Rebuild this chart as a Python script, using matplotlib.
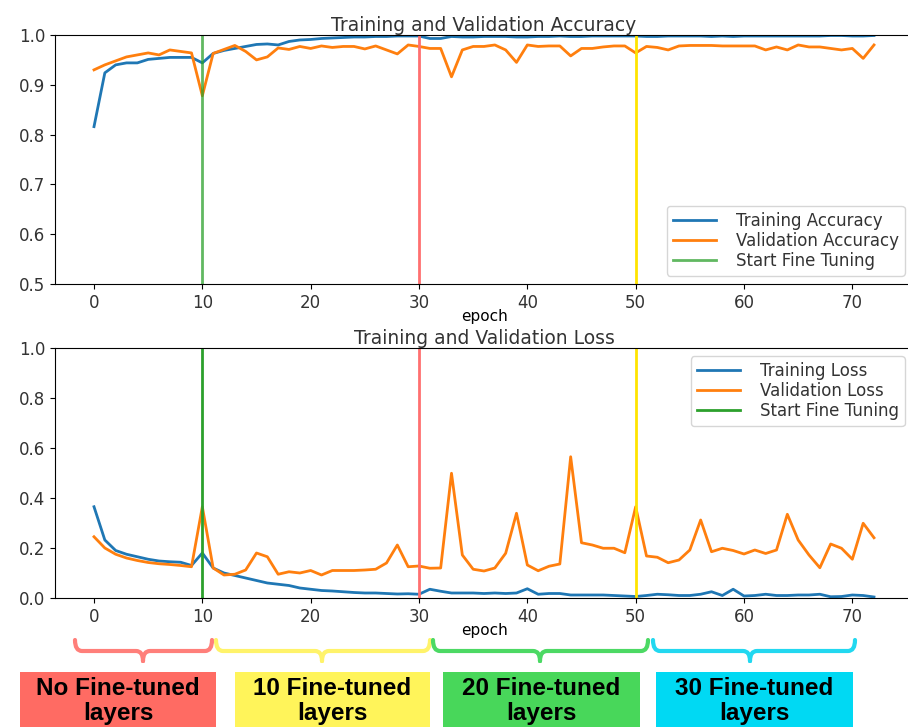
import numpy as np
import matplotlib
matplotlib.use("Agg")
import matplotlib.pyplot as plt
from matplotlib.path import Path
from matplotlib.patches import PathPatch, Rectangle

# values (73 epochs, 0..72)
acc = [0.816, 0.924, 0.940, 0.944, 0.944, 0.951, 0.953, 0.955, 0.955, 0.955,
       0.944, 0.963, 0.969, 0.973, 0.977, 0.981, 0.982, 0.980, 0.987, 0.990,
       0.991, 0.993, 0.994, 0.995, 0.996, 0.996, 0.997, 0.997, 0.998, 0.998,
       0.998, 0.993, 0.993, 0.997, 0.996, 0.996, 0.997, 0.997, 0.997, 0.996,
       0.996, 0.997, 0.997, 0.998, 0.997, 0.997, 0.998, 0.998, 0.998, 0.998,
       0.998, 0.997, 0.997, 0.998, 0.998, 0.998, 0.998, 0.997, 0.998, 0.997,
       0.998, 0.998, 0.998, 0.998, 0.998, 0.998, 0.998, 0.998, 0.999, 0.999,
       0.998, 0.998, 0.999]
val_acc = [0.930, 0.940, 0.948, 0.956, 0.960, 0.964, 0.960, 0.970, 0.967, 0.964,
           0.878, 0.963, 0.971, 0.979, 0.967, 0.950, 0.956, 0.974, 0.971, 0.977,
           0.973, 0.978, 0.975, 0.977, 0.977, 0.972, 0.978, 0.970, 0.962, 0.980,
           0.977, 0.973, 0.973, 0.916, 0.970, 0.977, 0.977, 0.980, 0.970, 0.945,
           0.980, 0.977, 0.978, 0.978, 0.958, 0.973, 0.973, 0.976, 0.978, 0.978,
           0.964, 0.977, 0.975, 0.970, 0.978, 0.979, 0.979, 0.979, 0.978, 0.978,
           0.978, 0.978, 0.970, 0.976, 0.970, 0.980, 0.976, 0.976, 0.973, 0.970,
           0.973, 0.953, 0.980]
loss = [0.365, 0.232, 0.190, 0.175, 0.165, 0.155, 0.148, 0.145, 0.143, 0.130,
        0.180, 0.120, 0.100, 0.090, 0.080, 0.070, 0.060, 0.055, 0.050, 0.040,
        0.035, 0.030, 0.028, 0.025, 0.022, 0.020, 0.020, 0.018, 0.016, 0.017,
        0.015, 0.035, 0.027, 0.020, 0.020, 0.020, 0.018, 0.020, 0.018, 0.020,
        0.037, 0.015, 0.018, 0.018, 0.012, 0.012, 0.012, 0.012, 0.010, 0.008,
        0.006, 0.010, 0.015, 0.013, 0.010, 0.010, 0.015, 0.025, 0.010, 0.035,
        0.008, 0.010, 0.015, 0.010, 0.010, 0.012, 0.012, 0.015, 0.005, 0.006,
        0.012, 0.010, 0.004]
val_loss = [0.245, 0.200, 0.175, 0.160, 0.150, 0.142, 0.137, 0.134, 0.130, 0.125,
            0.365, 0.120, 0.092, 0.095, 0.112, 0.180, 0.165, 0.095, 0.105, 0.100,
            0.110, 0.092, 0.110, 0.110, 0.110, 0.112, 0.115, 0.140, 0.212, 0.125,
            0.128, 0.119, 0.120, 0.499, 0.172, 0.115, 0.108, 0.120, 0.179, 0.339,
            0.132, 0.109, 0.127, 0.136, 0.565, 0.221, 0.212, 0.199, 0.199, 0.181,
            0.365, 0.168, 0.163, 0.141, 0.152, 0.192, 0.312, 0.185, 0.199, 0.190,
            0.176, 0.192, 0.178, 0.192, 0.335, 0.232, 0.172, 0.121, 0.216, 0.199,
            0.155, 0.299, 0.241]
epochs = np.arange(len(acc))

fine_tune_at = 10
stage_marks = [30, 50]
stage_colors = ["#ff7070", "#ffe400"]

stage_labels = ["No Fine-tuned\nlayers", "10 Fine-tuned\nlayers",
                "20 Fine-tuned\nlayers", "30 Fine-tuned\nlayers"]
stage_fill = ["#ff6b63", "#fff45a", "#48d75a", "#00d9f3"]
brace_fill = ["#ff7f7a", "#fff36a", "#4cd964", "#22d8f0"]

W, H = 908, 727
fig = plt.figure(figsize=(W / 100, H / 100), dpi=100)
plt.rcParams["text.color"] = "#333333"
plt.rcParams["xtick.labelcolor"] = "#333333"
plt.rcParams["ytick.labelcolor"] = "#333333"

def px_axes(left, top, width, height):
    return fig.add_axes([left / W, 1 - (top + height) / H, width / W, height / H])

fs = 12
leg_kw = dict(fontsize=fs, labelspacing=0.12, borderpad=0.35, handlelength=2.6,
              handletextpad=1.2)

# accuracy
ax1 = px_axes(55, 35, 858, 249)
ax1.plot(epochs, acc, lw=2, label="Training Accuracy")
ax1.plot(epochs, val_acc, lw=2, label="Validation Accuracy")
ax1.set_ylim(0.5, 1.0)
ax1.plot([fine_tune_at, fine_tune_at], ax1.get_ylim(), lw=2, alpha=0.75, label="Start Fine Tuning")
for m, c in zip(stage_marks, stage_colors):
    ax1.axvline(m, color=c, lw=2)
ax1.set_xlim(-3.6, 75.6)
ax1.legend(loc="lower right", **leg_kw)
ax1.set_title("Training and Validation Accuracy", fontsize=13.5, pad=3)
ax1.set_xlabel("epoch", fontsize=11, labelpad=-2)
ax1.tick_params(labelsize=fs)

# loss
ax2 = px_axes(55, 348, 858, 250)
ax2.plot(epochs, loss, lw=2, label="Training Loss")
ax2.plot(epochs, val_loss, lw=2, label="Validation Loss")
ax2.set_ylim(0, 1.0)
ax2.plot([fine_tune_at, fine_tune_at], ax2.get_ylim(), lw=2, label="Start Fine Tuning")
for m, c in zip(stage_marks, stage_colors):
    ax2.axvline(m, color=c, lw=2)
ax2.set_xlim(-3.6, 75.6)
ax2.legend(loc="upper right", **leg_kw)
ax2.set_title("Training and Validation Loss", fontsize=13.5, pad=3)
ax2.set_xlabel("epoch", fontsize=11, labelpad=-2)
ax2.tick_params(labelsize=fs)

# annotation strip under the plots, in pixel coordinates
ov = fig.add_axes([0, 0, 1, 1], zorder=-1)
ov.set_xlim(0, W)
ov.set_ylim(H, 0)
ov.axis("off")

def brace(x0, x1, xm, color, y0=640, y1=651, y2=661, r=7):
    verts = [(x0, y0), (x0, y1), (x0 + r, y1),
             (xm - r, y1), (xm, y1), (xm, y2),
             (xm, y2), (xm, y1), (xm + r, y1),
             (x1 - r, y1), (x1, y1), (x1, y0)]
    codes = [Path.MOVETO, Path.CURVE3, Path.CURVE3,
             Path.LINETO, Path.CURVE3, Path.CURVE3,
             Path.MOVETO, Path.CURVE3, Path.CURVE3,
             Path.LINETO, Path.CURVE3, Path.CURVE3]
    ov.add_patch(PathPatch(Path(verts, codes), fill=False, ec=color, lw=3,
                           capstyle="round", joinstyle="round"))

brace_spans = [(75, 212, 143), (216, 430, 322), (433, 648, 540), (653, 855, 750)]
box_spans = [(20, 216), (235, 430), (443, 640), (656, 853)]
for (b0, b1, bm), (x0, x1), lab, fc, bc in zip(brace_spans, box_spans, stage_labels,
                                               stage_fill, brace_fill):
    brace(b0, b1, bm, bc)
    ov.add_patch(Rectangle((x0, 672), x1 - x0, 60, fc=fc, ec="none"))
    ov.text((x0 + x1) / 2, 701, lab, ha="center", va="center", fontsize=17.5,
            fontweight="bold", family="Liberation Sans", color="black",
            linespacing=1.1)

fig.savefig("out.png", dpi=100)
